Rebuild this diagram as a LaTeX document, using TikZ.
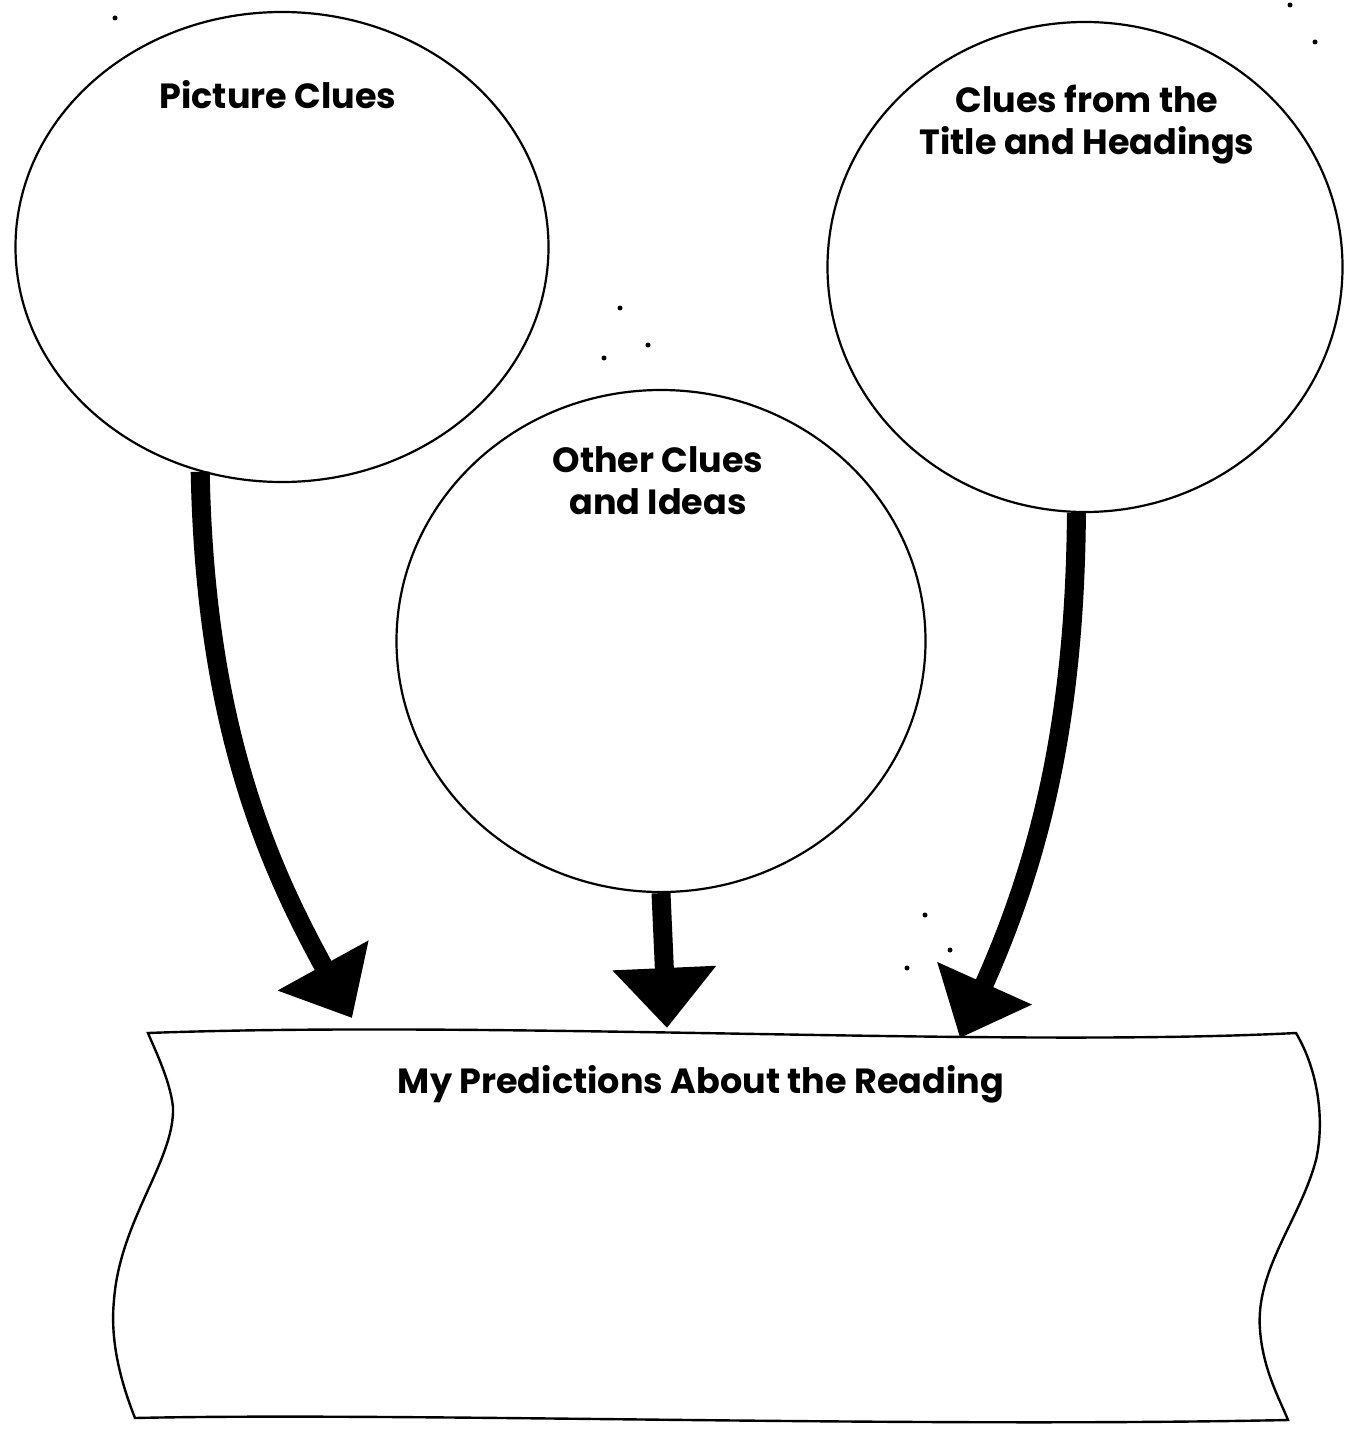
\documentclass[tikz,border=0pt]{standalone}
\usepackage{fontspec}
\setmainfont{Poppins}
\usetikzlibrary{shapes.geometric,arrows.meta}
\begin{document}
\begin{tikzpicture}[x=0.5pt,y=-0.5pt,
  bubble/.style={draw=black,line width=1.1pt,ellipse,inner sep=0pt},
  lbl/.style={font=\fontsize{17.5}{21}\selectfont\bfseries,align=center,text=black},
  bigarrow/.style={draw=black,line width=9.5pt,-{Triangle[width=50pt,length=30pt]}},
  speck/.style={fill=black,circle,inner sep=0pt,minimum size=2.5pt},
  edge/.style={draw=black,line width=1.2pt}]
\useasboundingbox (0,0) rectangle (1345,1429);
\fill[white] (0,0) rectangle (1345,1429);

% bubbles
\node[bubble,minimum width=266.5pt,minimum height=235pt] (pc) at (282,247) {};
\node[bubble,minimum width=257.5pt,minimum height=245pt] (tc) at (1085,267) {};
\node[bubble,minimum width=264.5pt,minimum height=251pt] (oc) at (661,641) {};

\node[lbl] (pcl) at (278,95) {Picture Clues};
\node[lbl] (tcl) at (1087,125) {Clues from the\\Title and Headings};
\node[lbl] (ocl) at (658,481) {Other Clues\\and Ideas};

% banner
\draw[edge] (148,1033) .. controls (500,1020) and (1000,1048) .. (1296,1033)
  .. controls (1318,1070) and (1325,1120) .. (1316,1160)
  .. controls (1300,1220) and (1255,1270) .. (1260,1330)
  .. controls (1263,1370) and (1280,1400) .. (1288,1420)
  .. controls (900,1428) and (400,1412) .. (135,1418)
  .. controls (120,1380) and (110,1340) .. (114,1300)
  .. controls (120,1220) and (175,1160) .. (173,1107)
  .. controls (170,1080) and (155,1050) .. (148,1033) -- cycle;
\node[lbl] (pred) at (701,1084) {My Predictions About the Reading};

% arrows
\coordinate (t1) at (352,1018);
\coordinate (t2) at (667,1028);
\coordinate (t3) at (960,1038);
\draw[bigarrow] (pc.250) .. controls (205,720) and (265,860) .. (t1);
\draw[bigarrow] (oc.south) -- (t2);
\draw[bigarrow] (tc.268) .. controls (1075,720) and (1040,860) .. (t3);

% specks
\node[speck] (s1) at (620,308) {};
\node[speck] (s2) at (604,358) {};
\node[speck] (s3) at (648,345) {};
\node[speck] (s4) at (925,915) {};
\node[speck] (s5) at (950,950) {};
\node[speck] (s6) at (907,968) {};
\node[speck] (s7) at (115,18) {};
\node[speck] (s8) at (1290,5) {};
\node[speck] (s9) at (1315,42) {};
\end{tikzpicture}
\end{document}
